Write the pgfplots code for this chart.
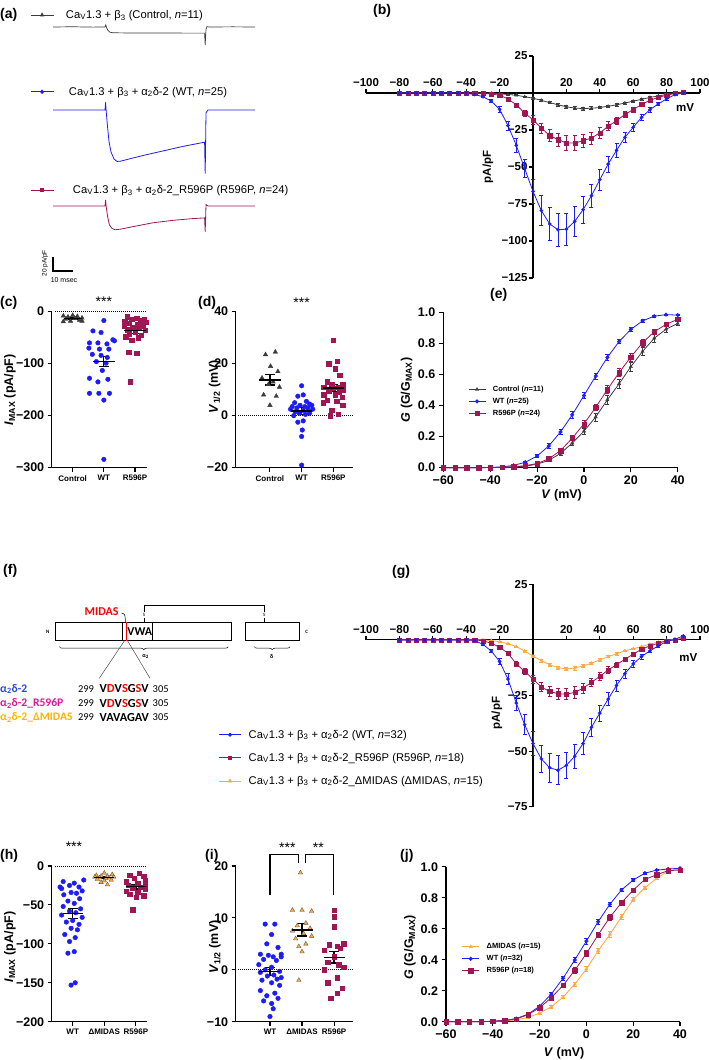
\documentclass[border=0pt]{standalone}
\usepackage{fontspec}
\setmainfont{Liberation Sans}
\newfontfamily\calib{Carlito}
\usepackage{pgfplots}
\pgfplotsset{compat=1.18}
\usepackage{pgfplotstable}
\usetikzlibrary{decorations.pathreplacing}

\definecolor{wt}{RGB}{28,28,250}
\definecolor{rp}{RGB}{160,22,84}
\definecolor{ct}{RGB}{60,60,60}
\definecolor{dm}{RGB}{255,168,64}
\definecolor{lblue}{RGB}{40,70,225}
\definecolor{lmag}{RGB}{225,20,150}
\definecolor{lorg}{RGB}{255,180,0}

\newcommand\fs[1]{\fontsize{#1}{#1}\selectfont}

\pgfplotsset{
  every axis/.append style={scale only axis, clip=false, legend cell align=left},
  panel/.style={axis lines=left, axis line style={-, line width=1.2pt},
    tick style={black, line width=1.1pt}, major tick length=4.5pt, tick align=outside,
    ticklabel style={font=\bfseries\fs{12.5}},
    every axis label/.append style={font=\bfseries\fs{12.5}}},
  cats/.style={xtick={0,1,2}, xticklabel style={font=\bfseries\fs{8}}, major tick length=4pt},
  iv/.style={axis lines=middle, axis line style={-, line width=1.2pt},
    tick style={black, line width=1.1pt}, major tick length=4pt,
    xmin=-100, xmax=100,
    xtick={-100,-80,-60,-40,-20,20,40,60,80,100},
    xticklabels={−100,−80,−60,−40,−20,20,40,60,80,100},
    xticklabel style={anchor=south, yshift=5pt},
    x tick style={yshift=2pt}, y tick style={xshift=-2pt},
    ticklabel style={font=\bfseries\fs{11.5}}},
  curve/.style={line width=0.8pt, mark size=#1, mark options={solid, line width=0.3pt},
    error bars/.cd, y dir=both, y explicit,
    error bar style={line width=0.7pt},
    error mark options={rotate=90, mark size=2pt, line width=0.7pt}},
  meanbar/.style={black, line width=1.2pt, mark=-, mark size=#1, mark options={line width=1.4pt},
    error bars/.cd, y dir=both, y explicit,
    error bar style={line width=1.2pt},
    error mark options={rotate=90, mark size=5pt, line width=1.2pt}},
  trleg/.style={legend style={draw=none, fill=none, font=\fs{11.2}, inner sep=0pt,
      at={(axis description cs:-0.114,#1)}, anchor=west},
    legend image code/.code={\draw[mark repeat=2,mark phase=2,##1] plot coordinates {(0pt,0pt) (11.5pt,0pt) (23pt,0pt)};}},
  gvleg/.style={legend style={draw=none, fill=none, font=\bfseries\fs{7.5}, inner sep=0pt,
      row sep=1pt, at={(axis description cs:#1)}, anchor=north west,
      /tikz/every odd column/.append style={column sep=5pt}},
    legend image code/.code={\draw[mark repeat=2,mark phase=2,##1] plot coordinates {(0pt,0pt) (8.5pt,0pt) (17pt,0pt)};}},
}

% I-V data, panel (b)
\pgfplotstableread{
V wt wte rp rpe ct cte
-80 0 0 0 0 0 0
-75 0 0 0 0 0 0
-70 0 0 0 0 0 0
-65 0 0 0 0 0 0
-60 0 0 0 0 0 0
-55 0 0 0 0 0 0
-50 0 0 0 0 0 0
-45 0 0 0 0 0 0
-40 -0.2 0.1 0 0 0 0
-35 -1 0.3 0 0 0 0
-30 -2.5 0.6 -0.3 0.1 0 0
-25 -5.5 1 -0.7 0.2 -0.2 0.1
-20 -11 1.8 -1.5 0.4 -0.5 0.2
-15 -22 3 -4 0.8 -1 0.3
-10 -35.4 4.5 -8 1.3 -1.5 0.4
-5 -51 6 -13.6 2 -2.5 0.5
0 -66.5 8 -18.1 2.8 -3.5 0.6
5 -79.5 10 -23.7 3.3 -5 0.7
10 -88.5 11 -28.8 4 -6.5 0.8
15 -92.4 11 -31.5 4.5 -8 0.9
20 -92 11 -33.8 5 -9.3 1
25 -86.7 10 -33.8 5 -10.2 1
30 -78.8 9 -32.2 4.5 -10.5 1
35 -69.4 8 -30.4 4 -10.3 1
40 -58.6 7 -27 3.5 -9.8 0.9
45 -48 5.5 -22.5 3 -9 0.9
50 -38.8 4.5 -18.7 2.5 -8 0.8
55 -30 3.5 -14.6 2 -6.8 0.7
60 -23.2 2.5 -11.2 1.5 -5.5 0.6
65 -16.5 2 -7.8 1.2 -4.3 0.5
70 -11.3 1.5 -4.9 0.8 -3 0.4
75 -7.4 1 -2.9 0.6 -2 0.3
80 -4 0.7 -1.5 0.4 -1 0.2
85 -1.1 0.4 -0.2 0.2 -0.3 0.1
90 0 0.2 0.3 0.1 0 0
}\tabB

% I-V data, panel (g)
\pgfplotstableread{
V wt wte rp rpe dm dme
-80 0 0 0 0 0 0
-75 0 0 0 0 0 0
-70 0 0 0 0 0 0
-65 0 0 0 0 0 0
-60 0 0 0 0 0 0
-55 0 0 0 0 0 0
-50 0 0 0 0 0 0
-45 0 0 0 0 0 0
-40 0 0 0 0 0 0
-35 -0.3 0.1 0 0 0 0
-30 -2 0.3 -0.4 0.1 0 0
-25 -5 0.8 -1.5 0.3 -0.3 0.1
-20 -9.7 1.5 -3.3 0.5 -0.8 0.1
-15 -17.6 2.5 -6 0.8 -1.7 0.2
-10 -28.4 3.5 -10.8 1.2 -3 0.3
-5 -38.1 4.5 -14.2 1.5 -5 0.4
0 -46.6 5.5 -17.6 1.8 -7.3 0.5
5 -53.5 6 -21.2 2 -9.3 0.6
10 -57.5 6.5 -23.2 2.3 -11.2 0.7
15 -58.6 6.5 -24.2 2.5 -12.5 0.8
20 -56.4 6 -24.4 2.5 -13 0.8
25 -52.3 5.5 -23.6 2.5 -12.7 0.8
30 -46.6 5 -21.7 2.2 -11.7 0.7
35 -39.3 4 -19.1 2 -10.5 0.6
40 -32.9 3.5 -16.4 1.8 -9 0.6
45 -26.6 3 -13.5 1.5 -7.5 0.5
50 -20.5 2.5 -11.2 1.2 -6.3 0.5
55 -15.2 2 -8.7 1 -4.9 0.4
60 -10.8 1.5 -6.4 0.8 -4 0.4
65 -7.5 1.2 -4.2 0.6 -3 0.3
70 -4.9 0.9 -2.7 0.5 -1.9 0.3
75 -2.7 0.6 -1.5 0.4 -1 0.2
80 -0.7 0.4 -0.4 0.3 -0.3 0.2
85 0.3 0.3 0 0.2 0.3 0.2
90 1.8 0.3 0.7 0.2 0.7 0.2
}\tabG

% G-V data, panel (e)
\pgfplotstableread{
V wt wte rp rpe ct cte
-60 0 0 0 0 0 0
-55 0 0 0 0 0 0
-50 0 0 0 0 0 0
-45 0 0 0 0 0 0
-40 0.002 0 0.001 0 0.001 0
-35 0.005 0.002 0.002 0.001 0.002 0.001
-30 0.015 0.004 0.006 0.002 0.005 0.002
-25 0.035 0.006 0.013 0.003 0.01 0.003
-20 0.075 0.01 0.027 0.005 0.022 0.005
-15 0.14 0.015 0.057 0.008 0.047 0.008
-10 0.23 0.018 0.11 0.012 0.092 0.012
-5 0.34 0.02 0.19 0.015 0.158 0.016
0 0.464 0.02 0.282 0.02 0.235 0.02
5 0.59 0.02 0.388 0.022 0.326 0.025
10 0.71 0.018 0.503 0.025 0.437 0.028
15 0.812 0.015 0.612 0.025 0.54 0.03
20 0.89 0.01 0.712 0.025 0.65 0.03
25 0.945 0.007 0.804 0.022 0.748 0.028
30 0.975 0.005 0.875 0.018 0.833 0.025
35 0.985 0.004 0.922 0.013 0.891 0.018
40 0.982 0.004 0.955 0.01 0.928 0.012
}\tabE

% G-V data, panel (j)
\pgfplotstableread{
V wt wte rp rpe dm dme
-60 0 0 0 0 0 0
-55 0 0 0 0 0 0
-50 0 0 0 0 0 0
-45 0 0 0 0 0 0
-40 0.003 0 0.003 0 0.002 0
-35 0.008 0.002 0.008 0.002 0.005 0.001
-30 0.02 0.003 0.018 0.003 0.012 0.002
-25 0.048 0.005 0.045 0.005 0.027 0.003
-20 0.1 0.008 0.09 0.008 0.055 0.005
-15 0.178 0.012 0.155 0.012 0.097 0.008
-10 0.28 0.015 0.234 0.015 0.158 0.01
-5 0.398 0.017 0.331 0.017 0.242 0.013
0 0.52 0.018 0.44 0.018 0.34 0.015
5 0.645 0.017 0.56 0.018 0.457 0.016
10 0.757 0.015 0.673 0.017 0.563 0.017
15 0.85 0.011 0.768 0.015 0.677 0.016
20 0.914 0.008 0.849 0.012 0.789 0.014
25 0.958 0.005 0.918 0.009 0.865 0.011
30 0.978 0.004 0.948 0.007 0.925 0.008
35 0.985 0.003 0.975 0.005 0.972 0.005
40 0.99 0.002 0.978 0.004 0.985 0.003
}\tabJ

\begin{document}
\begin{tikzpicture}[x=1pt,y=1pt]
\useasboundingbox (0,0) rectangle (709,1060);

% panel letters
\begin{scope}[every node/.style={anchor=west, inner sep=0pt, font=\bfseries\fs{14}}]
\node at (0,1045) {(a)};
\node at (373,1049) {(b)};
\node at (0,757.5) {(c)};
\node at (198,757.5) {(d)};
\node at (490,765) {(e)};
\node at (3,489) {(f)};
\node at (392,488) {(g)};
\node at (0,204) {(h)};
\node at (205,204) {(i)};
\node at (400,204) {(j)};
\end{scope}

% ---------- (a) example traces ----------
\begin{axis}[at={(53pt,966.5pt)}, anchor=south west, x=2pt, y=0.7pt,
  xmin=0, xmax=101, ymin=-95, ymax=15, hide axis, trleg=1.019,
  legend style={/tikz/every odd column/.append style={column sep=10pt}}]
\addplot[ct, line width=0.7pt, forget plot] coordinates {(0,0) (10,0.3) (20,-0.2) (26,0) (26.4,3) (26.8,-1) (27.5,-5) (28.5,-7.5) (30,-8.3) (40,-8.6) (50,-8.7) (60,-8.7) (70,-8.8) (75.8,-8.8) (76.1,-26) (76.5,-3) (77,0.5) (78,0) (90,0.2) (101,0)};
\addlegendimage{ct, line width=0.8pt, mark=triangle*, mark size=1.8pt}
\addlegendentry{Ca\textsubscript{V}1.3 + β\textsubscript{3} (Control, \textit{n}=11)}
\end{axis}

\begin{axis}[at={(53pt,883.5pt)}, anchor=south west, x=2pt, y=0.7pt,
  xmin=0, xmax=101, ymin=-95, ymax=15, hide axis, trleg=1.10,
  legend style={/tikz/every odd column/.append style={column sep=13pt}}]
\addplot[wt, line width=0.8pt, forget plot] coordinates {(0,0) (26,0) (26.3,11) (26.6,-2) (27.3,-25) (28,-45) (29,-60) (30.5,-70) (32,-73.5) (34,-73) (38,-70) (45,-65) (55,-58.5) (65,-52) (75.8,-46) (76.1,-91) (76.5,-4) (77.5,0) (101,0)};
\addlegendimage{wt, line width=0.8pt, mark=*, mark size=1.6pt}
\addlegendentry{Ca\textsubscript{V}1.3 + β\textsubscript{3} + α\textsubscript{2}δ-2 (WT, \textit{n}=25)}
\end{axis}

\begin{axis}[at={(53pt,787.5pt)}, anchor=south west, x=2pt, y=0.7pt,
  xmin=0, xmax=101, ymin=-95, ymax=15, hide axis, trleg=1.071,
  legend style={/tikz/every odd column/.append style={column sep=17pt}}]
\addplot[rp, line width=0.8pt, forget plot] coordinates {(0,0) (26,0) (26.3,8.5) (26.6,-1) (27.3,-15) (28.2,-27) (29.5,-32) (31,-34) (34,-33) (40,-29.5) (50,-24) (60,-20.5) (70,-18) (75.8,-17) (76.1,-37) (76.5,2) (77.5,0) (101,0)};
\addlegendimage{rp, line width=0.8pt, mark=square*, mark size=1.6pt}
\addlegendentry{Ca\textsubscript{V}1.3 + β\textsubscript{3} + α\textsubscript{2}δ-2\_R596P (R596P, \textit{n}=24)}
% scale bar 20 pA/pF x 10 ms
\draw[line width=1.4pt] (axis cs:0,-72.9) -- (axis cs:0,-92.9) -- (axis cs:10,-92.9);
\node[rotate=90, font=\fs{6.5}, inner sep=0pt] at (axis cs:-4,-82) {20 pA/pF};
\node[font=\fs{7}, inner sep=0pt] at (axis cs:5.5,-105.7) {10 msec};
\end{axis}

% ---------- (b) I-V ----------
\begin{axis}[iv, at={(366pt,782pt)}, anchor=south west, width=334pt, height=222pt,
  ymin=-125, ymax=25, ytick={-125,-100,-75,-50,-25,25},
  yticklabels={−125,−100,−75,−50,−25,25}]
\addplot[ct, mark=triangle*, curve=1.8pt] table[x=V, y=ct, y error=cte] \tabB;
\addplot[rp, mark=square*, curve=2.1pt] table[x=V, y=rp, y error=rpe] \tabB;
\addplot[wt, mark=*, curve=1.7pt] table[x=V, y=wt, y error=wte] \tabB;
\node[font=\bfseries\fs{11.5}] at (axis cs:91,-10) {mV};
\node[font=\bfseries\fs{11.5}, rotate=90] at (axis cs:-27,-50) {pA/pF};
\end{axis}

% ---------- (c) I_MAX ----------
\begin{axis}[panel, cats, at={(51.7pt,592.3pt)}, anchor=south west, width=95pt, height=156pt,
  xmin=-0.673, xmax=2.375, ymin=-300, ymax=0,
  xticklabels={Control,WT,R596P},
  ytick={-300,-200,-100,0}, yticklabels={−300,−200,−100,0},
  ylabel={\textit{I}\textsubscript{MAX} (pA/pF)},
  ylabel style={at={(axis description cs:-0.44,0.5)}, anchor=center}]
\addplot[black, densely dotted, line width=1pt, forget plot] coordinates {(-0.57,0) (2.375,0)};
\addplot[only marks, mark=triangle*, mark size=2.6pt, ct] coordinates {(-0.3,-8) (-0.15,-10) (0,-7) (0.15,-9) (0.3,-12) (-0.22,-14) (0.07,-13) (0.22,-16) (-0.07,-18) (0.3,-18) (-0.3,-19)};
\addplot[only marks, mark=*, mark size=2.3pt, wt] coordinates {(1,-17) (0.65,-37) (0.91,-40) (1.29,-54) (0.54,-60) (0.81,-60) (1.1,-62) (1.34,-56) (0.52,-70) (0.86,-72) (1.16,-72) (0.63,-82) (0.91,-84) (1.11,-88) (0.76,-96) (1.07,-99) (0.95,-113) (0.54,-128) (1.13,-130) (0.81,-135) (0.54,-157) (0.84,-157) (1.18,-157) (1,-170) (1,-284)};
\addplot[only marks, mark=square*, mark size=2.2pt, rp] coordinates {(1.75,-10) (2.05,-12) (2.3,-14) (1.9,-15) (2.18,-17) (1.67,-18) (2.35,-20) (1.8,-22) (2.08,-25) (1.65,-27) (2.25,-28) (1.92,-30) (2.12,-32) (1.75,-35) (2.32,-36) (2,-40) (1.82,-42) (2.2,-45) (1.7,-48) (2.1,-50) (1.9,-55) (1.8,-78) (2.05,-80) (1.85,-135)};
\addplot[meanbar=9pt] coordinates {(0,-13.1) +- (0,1.5)};
\addplot[meanbar=10.8pt] coordinates {(1,-96) +- (0,9.6)};
\addplot[meanbar=10.8pt] coordinates {(2,-36.5) +- (0,5.5)};
\node[font=\fs{14}] at (axis cs:1,20) {***};
\end{axis}

% ---------- (d) V1/2 ----------
\begin{axis}[panel, cats, at={(235.7pt,592.3pt)}, anchor=south west, width=117.6pt, height=156pt,
  xmin=-1.08, xmax=2.63, ymin=-20, ymax=40,
  xticklabels={Control,WT,R596P},
  ytick={-20,0,20,40}, yticklabels={−20,0,20,40},
  ylabel={\textit{V}\textsubscript{1/2} (mV)},
  ylabel style={at={(axis description cs:-0.18,0.52)}, anchor=center}]
\addplot[black, densely dotted, line width=1pt, forget plot] coordinates {(-1,0) (2.63,0)};
\addplot[only marks, mark=triangle*, mark size=2.6pt, ct] coordinates {(-0.14,23.5) (0.17,24.5) (0.02,19) (0.25,17) (-0.25,14.5) (0.1,13) (-0.05,12) (0.3,11) (-0.2,8) (0.2,7.5) (0,4)};
\addplot[only marks, mark=*, mark size=2.3pt, wt] coordinates {(1,11.5) (1.05,8) (0.88,7.5) (1.15,5.5) (0.78,5) (1.25,4.5) (0.95,4) (1.32,4) (0.7,3.5) (1.1,3.5) (0.85,3) (1.2,3) (1.35,2.5) (0.65,2.5) (1.05,2) (0.8,1.5) (1.25,1) (0.92,1) (1.12,0.5) (0.75,0) (1.05,-2) (0.88,-2.5) (1.02,-5.5) (1,-8) (1,-19)};
\addplot[only marks, mark=square*, mark size=2.2pt, rp] coordinates {(2,29) (2.12,21) (1.85,20) (2.05,18) (2.2,15.5) (1.8,13) (2.3,12) (1.95,12) (2.15,11) (1.7,11) (2,10.5) (2.32,10) (1.85,9.5) (2.18,9) (1.7,8) (2.05,8) (2.28,7) (1.8,6) (2.1,5.5) (1.68,5) (2.3,4) (1.95,2) (2.15,0.5) (1.9,0)};
\addplot[meanbar=10.8pt] coordinates {(0,13.8) +- (0,2)};
\addplot[meanbar=10.8pt] coordinates {(1,1.8) +- (0,1.2)};
\addplot[meanbar=10.8pt] coordinates {(2,10.7) +- (0,1.4)};
\node[font=\fs{14}] at (axis cs:1,43.5) {***};
\end{axis}

% ---------- (e) G-V ----------
\begin{axis}[panel, at={(443.3pt,592.3pt)}, anchor=south west, width=234.4pt, height=155.4pt,
  xmin=-60, xmax=40, ymin=0, ymax=1,
  xtick={-60,-40,-20,0,20,40}, xticklabels={−60,−40,−20,0,20,40},
  ytick={0,0.2,0.4,0.6,0.8,1}, yticklabels={0.0,0.2,0.4,0.6,0.8,1.0},
  ylabel={\textit{G} (G/G\textsubscript{MAX})},
  ylabel style={at={(axis description cs:-0.156,0.5)}, anchor=center},
  xlabel={\textit{V} (mV)},
  xlabel style={at={(axis description cs:0.505,-0.176)}, anchor=center},
  gvleg={0.105,0.54}]
\addplot[ct, mark=triangle*, curve=2pt] table[x=V, y=ct, y error=cte] \tabE;
\addlegendentry{Control (\textit{n}=11)}
\addplot[wt, mark=*, curve=1.9pt] table[x=V, y=wt, y error=wte] \tabE;
\addlegendentry{WT (\textit{n}=25)}
\addplot[rp, mark=square*, curve=2.2pt] table[x=V, y=rp, y error=rpe] \tabE;
\addlegendentry{R596P (\textit{n}=24)}
\end{axis}

% ---------- (f) schematic ----------
\begin{scope}[line width=0.6pt]
\draw (55,419.3) rectangle (231.7,437.7);
\draw (122.7,419.3) -- (122.7,437.7) (152.7,419.3) -- (152.7,437.7);
\draw[red, line width=0.9pt] (126,419.3) -- (126,437.7);
\node[font=\calib\bfseries\fs{12}, inner sep=0pt] at (139.8,428.5) {VWA};
\draw (245.7,419.3) rectangle (299,437.7);
\node[font=\calib\bfseries\fs{5}, inner sep=0pt] at (47.7,428.5) {N};
\node[font=\calib\bfseries\fs{5}, inner sep=0pt] at (306.7,428.5) {C};
\node[font=\calib\bfseries\fs{12}, text=red, inner sep=0pt] at (101.7,448.3) {MIDAS};
\draw[line width=0.5pt] (121.5,447) .. controls (125,446) .. (125.5,437.7);
\draw[line width=0.5pt] (144,437.7) -- (144,441.7) (144,448.3) -- (144,455) -- (264.3,455) -- (264.3,448.3) (264.3,441.7) -- (264.3,437.7);
\node[font=\calib\fs{5}, inner sep=0pt] at (144,445) {S};
\node[font=\calib\fs{5}, inner sep=0pt] at (264.3,445) {S};
\draw[decorate, decoration={brace, mirror, amplitude=3pt}, line width=0.5pt] (59.3,413.3) -- (228.3,413.3);
\node[font=\calib\bfseries\fs{6}, inner sep=0pt] at (145.7,403.5) {α\textsubscript{2}};
\draw[decorate, decoration={brace, mirror, amplitude=3pt}, line width=0.5pt] (254.3,413.3) -- (290,413.3);
\node[font=\calib\bfseries\fs{6}, inner sep=0pt] at (271.7,403.5) {δ};
\draw[line width=0.5pt, black!70] (124.5,419.3) -- (99.3,381.7) (127.5,419.3) -- (150,381.7);
\end{scope}
\begin{scope}[every node/.style={inner sep=0pt}]
\node[anchor=west, font=\calib\bfseries\fs{11.6}, text=lblue] at (0,371) {α\textsubscript{2}δ-2};
\node[anchor=west, font=\calib\bfseries\fs{11.6}, text=lmag] at (0,356.7) {α\textsubscript{2}δ-2\_R596P};
\node[anchor=west, font=\calib\bfseries\fs{11.6}, text=lorg] at (0,342.7) {α\textsubscript{2}δ-2\_ΔMIDAS};
\node[font=\calib\fs{10.5}] at (86,371) {299};
\node[font=\calib\fs{10.5}] at (86,356.7) {299};
\node[font=\calib\fs{10.5}] at (86,342.7) {299};
\node[anchor=west, font=\calib\bfseries\fs{12.3}] at (99.5,371) {V\textcolor{red}{D}V\textcolor{red}{S}G\textcolor{red}{S}V};
\node[anchor=west, font=\calib\bfseries\fs{12.3}] at (99.5,356.7) {V\textcolor{red}{D}V\textcolor{red}{S}G\textcolor{red}{S}V};
\node[anchor=west, font=\calib\bfseries\fs{12.3}] at (99.5,342.7) {VAVAGAV};
\node[font=\calib\fs{10.5}] at (160.7,371) {305};
\node[font=\calib\fs{10.5}] at (160.7,356.7) {305};
\node[font=\calib\fs{10.5}] at (160.7,342.7) {305};
\end{scope}

% ---------- (g) I-V ----------
\begin{axis}[iv, at={(366pt,253.3pt)}, anchor=south west, width=334pt, height=222.4pt,
  ymin=-75, ymax=25, ytick={-75,-50,-25,25}, yticklabels={−75,−50,−25,25},
  legend style={draw=none, fill=none, font=\fs{11.2}, inner sep=0pt, row sep=9.5pt,
    at={(axis description cs:-0.443,0.355)}, anchor=north west,
    /tikz/every odd column/.append style={column sep=5pt}},
  legend image code/.code={\draw[mark repeat=2,mark phase=2,#1] plot coordinates {(0pt,0pt) (11.3pt,0pt) (22.7pt,0pt)};}]
\addplot[forget plot, dm, mark=triangle*, curve=1.8pt] table[x=V, y=dm, y error=dme] \tabG;
\addplot[forget plot, rp, mark=square*, curve=2.1pt] table[x=V, y=rp, y error=rpe] \tabG;
\addplot[forget plot, wt, mark=*, curve=1.7pt] table[x=V, y=wt, y error=wte] \tabG;
\addlegendimage{wt, line width=0.8pt, mark=*, mark size=1.6pt}
\addlegendentry{Ca\textsubscript{V}1.3 + β\textsubscript{3} + α\textsubscript{2}δ-2 (WT, \textit{n}=32)}
\addlegendimage{rp, line width=0.8pt, mark=square*, mark size=1.6pt}
\addlegendentry{Ca\textsubscript{V}1.3 + β\textsubscript{3} + α\textsubscript{2}δ-2\_R596P (R596P, \textit{n}=18)}
\addlegendimage{dm, line width=0.8pt, mark=triangle*, mark size=1.8pt}
\addlegendentry{Ca\textsubscript{V}1.3 + β\textsubscript{3} + α\textsubscript{2}δ-2\_ΔMIDAS (ΔMIDAS, \textit{n}=15)}
\node[font=\bfseries\fs{11.5}] at (axis cs:93,-7.9) {mV};
\node[font=\bfseries\fs{11.5}, rotate=90] at (axis cs:-21.6,-32.9) {pA/pF};
\end{axis}

% ---------- (h) I_MAX ----------
\begin{axis}[panel, cats, at={(51.7pt,38.3pt)}, anchor=south west, width=95pt, height=155.7pt,
  xmin=-0.663, xmax=2.34, ymin=-200, ymax=0,
  xticklabels={WT,ΔMIDAS,R596P},
  ytick={-200,-150,-100,-50,0}, yticklabels={−200,−150,−100,−50,0},
  ylabel={\textit{I}\textsubscript{MAX} (pA/pF)},
  ylabel style={at={(axis description cs:-0.44,0.48)}, anchor=center}]
\addplot[black, densely dotted, line width=1pt, forget plot] coordinates {(-0.56,0) (2.34,0)};
\addplot[only marks, mark=*, mark size=2.3pt, wt] coordinates {(0.35,-18) (-0.3,-20) (0.05,-22) (-0.1,-25) (0.2,-27) (-0.35,-29) (0.3,-32) (-0.05,-34) (0.12,-35) (-0.28,-37) (0.22,-42) (-0.15,-45) (0.05,-48) (-0.3,-52) (0.25,-55) (-0.1,-58) (0.1,-60) (-0.35,-63) (0.3,-66) (0,-70) (-0.2,-72) (0.2,-75) (-0.05,-80) (0.15,-82) (-0.25,-88) (0.08,-92) (-0.1,-97) (0.05,-110) (-0.15,-112) (0.08,-150) (-0.05,-153) (-0.4,-27)};
\addplot[only marks, mark=triangle*, mark size=2.6pt, fill=dm, draw=black!70, mark options={line width=0.3pt}] coordinates {(1,-9) (1.25,-11) (0.75,-12) (1.1,-13) (0.9,-13) (1.3,-14) (0.7,-14) (1.15,-15) (0.85,-15) (1.05,-16) (0.78,-17) (1.22,-18) (1,-19) (0.9,-21) (1.1,-24)};
\addplot[only marks, mark=square*, mark size=2.2pt, rp] coordinates {(2.1,-9) (1.8,-12) (2.25,-13) (1.95,-16) (2.3,-18) (1.7,-20) (2.05,-22) (2.3,-24) (1.75,-25) (2.15,-27) (1.9,-28) (2.3,-30) (1.7,-32) (2.05,-34) (1.8,-36) (2.25,-38) (2,-40) (1.9,-56)};
\addplot[meanbar=10pt] coordinates {(0,-61) +- (0,6.4)};
\addplot[meanbar=10pt] coordinates {(1,-15) +- (0,1.2)};
\addplot[meanbar=10pt] coordinates {(2,-26.7) +- (0,2.8)};
\node[font=\fs{14}] at (axis cs:0.04,25) {***};
\end{axis}

% ---------- (i) V1/2 ----------
\begin{axis}[panel, cats, at={(235.7pt,38.3pt)}, anchor=south west, width=117.6pt, height=155.7pt,
  xmin=-1.07, xmax=2.6, ymin=-10, ymax=20,
  xticklabels={WT,ΔMIDAS,R596P},
  ytick={-10,0,10,20}, yticklabels={−10,0,10,20},
  ylabel={\textit{V}\textsubscript{1/2} (mV)},
  ylabel style={at={(axis description cs:-0.176,0.48)}, anchor=center}]
\addplot[black, densely dotted, line width=1pt, forget plot] coordinates {(-1,0) (2.6,0)};
\addplot[only marks, mark=*, mark size=2.3pt, wt] coordinates {(-0.15,8.8) (0.15,8.8) (0.05,6.8) (-0.1,5) (0.25,4.3) (-0.3,3) (0.35,3) (-0.05,2.8) (0.1,2.5) (0.35,2.5) (-0.2,2) (0.2,1.8) (-0.35,1) (0.05,0.5) (-0.15,0) (0.3,-0.3) (-0.3,-0.5) (0.12,-1) (-0.08,-1.2) (0.22,-1.8) (-0.25,-2) (0.05,-2.5) (0.3,-3) (-0.3,-4) (0.15,-4.5) (-0.1,-5) (0.25,-5.5) (-0.2,-6) (0.05,-6.5) (0.1,-7.5) (0,-9) (0.35,-1.5)};
\addplot[only marks, mark=triangle*, mark size=2.6pt, fill=dm, draw=black!70, mark options={line width=0.3pt}] coordinates {(0.95,18.7) (0.7,11.5) (1,11.5) (1.3,11.3) (1.12,9) (0.85,8.5) (1.25,8) (0.7,7.5) (1.05,7) (1.3,6.5) (0.8,6) (1.12,5) (0.9,4.5) (1,3.5) (0.9,-2)};
\addplot[only marks, mark=square*, mark size=2.2pt, rp] coordinates {(2,11.5) (2,10.2) (2,8.3) (2.3,5) (1.85,4.8) (2.1,4.5) (1.7,3.8) (2.2,4.2) (2,2.5) (1.8,1.5) (2.15,1) (2.3,0.5) (1.7,0) (2.1,-1.5) (1.8,-2.5) (2.25,-3.5) (2.1,-4.5) (1.9,-5.5)};
\addplot[meanbar=10.5pt] coordinates {(0,-0.3) +- (0,0.8)};
\addplot[meanbar=10.5pt] coordinates {(1,7.7) +- (0,1.2)};
\addplot[meanbar=10.5pt] coordinates {(2,2.4) +- (0,1.1)};
\draw[line width=1.1pt] (axis cs:0,14.4) -- (axis cs:0,22.25) -- (axis cs:0.88,22.25) -- (axis cs:0.88,20.6);
\draw[line width=1.1pt] (axis cs:1.1,20.6) -- (axis cs:1.1,22.25) -- (axis cs:1.98,22.25) -- (axis cs:1.98,14.4);
\node[font=\fs{14}] at (axis cs:0.54,23.6) {***};
\node[font=\fs{14}] at (axis cs:1.51,23.6) {**};
\end{axis}

% ---------- (j) G-V ----------
\begin{axis}[panel, at={(446pt,38.3pt)}, anchor=south west, width=234pt, height=155pt,
  xmin=-60, xmax=40, ymin=0, ymax=1,
  xtick={-60,-40,-20,0,20,40}, xticklabels={−60,−40,−20,0,20,40},
  ytick={0,0.2,0.4,0.6,0.8,1}, yticklabels={0.0,0.2,0.4,0.6,0.8,1.0},
  ylabel={\textit{G} (G/G\textsubscript{MAX})},
  ylabel style={at={(axis description cs:-0.154,0.48)}, anchor=center},
  xlabel={\textit{V} (mV)},
  xlabel style={at={(axis description cs:0.505,-0.204)}, anchor=center},
  gvleg={0.067,0.52}]
\addplot[dm, mark=triangle*, curve=2pt] table[x=V, y=dm, y error=dme] \tabJ;
\addlegendentry{ΔMIDAS (\textit{n}=15)}
\addplot[wt, mark=*, curve=1.9pt] table[x=V, y=wt, y error=wte] \tabJ;
\addlegendentry{WT (\textit{n}=32)}
\addplot[rp, mark=square*, curve=2.2pt] table[x=V, y=rp, y error=rpe] \tabJ;
\addlegendentry{R596P (\textit{n}=18)}
\end{axis}
\end{tikzpicture}
\end{document}
